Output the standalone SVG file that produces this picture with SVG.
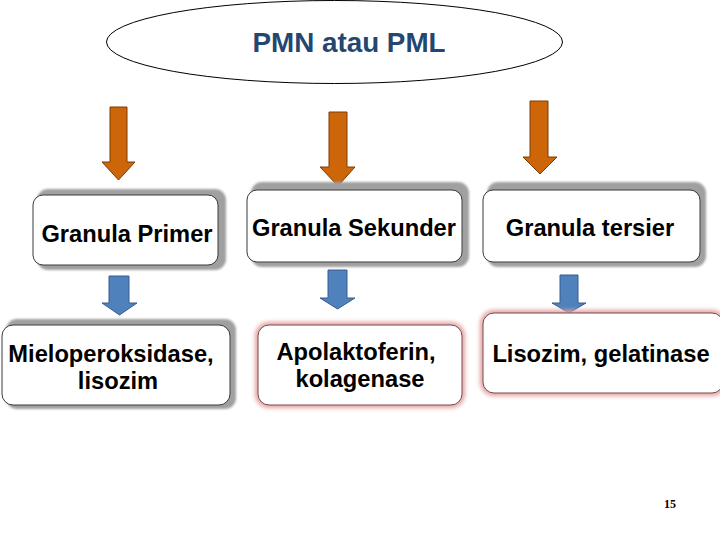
<svg xmlns="http://www.w3.org/2000/svg" width="720" height="540" viewBox="0 0 720 540">
<defs>
<style>
.t{font-family:"Liberation Sans",Arial,sans-serif;font-weight:bold;font-size:23.7px;fill:#000;text-anchor:middle}
.title{font-family:"Liberation Sans",Arial,sans-serif;font-weight:bold;font-size:27.8px;fill:#24466F;text-anchor:middle}
.pg{font-family:"Liberation Serif","Times New Roman",serif;font-weight:bold;font-size:12px;fill:#000;text-anchor:middle}
.bev{fill:#A0A0A0;filter:url(#soft)}
.box{fill:#fff;stroke:#3A3A3A;stroke-width:1}
.glow{fill:none;stroke:#E3A3A3;stroke-width:6;filter:url(#blur)}
.pbox{fill:#fff;stroke:#7A4A4A;stroke-width:1}
.oa{fill:#CC6608;stroke:#7A3C05;stroke-width:1}
.ba{fill:#4F81BD;stroke:#385D8A;stroke-width:1}
</style>
<filter id="soft" x="-10%" y="-20%" width="120%" height="140%"><feGaussianBlur stdDeviation="0.8"/></filter>
<filter id="blur" x="-10%" y="-20%" width="120%" height="140%"><feGaussianBlur stdDeviation="2"/></filter>
</defs>
<rect width="720" height="540" fill="#fff"/>

<g id="connectors">
<polygon class="oa" points="110,107 127,107 127,162 135,162 118.5,180 102,162 110,162"/>
<polygon class="oa" points="329,112 347,112 347,167 355,167 338,186 320,167 329,167"/>
<polygon class="oa" points="530,101 548,101 548,157 557,157 540,174 523,157 530,157"/>
<polygon class="ba" points="109,276 129,276 129,303 137,303 119.5,315 102,303 109,303"/>
<polygon class="ba" points="328,270 347,270 347,298 355,298 337.5,309 320,298 328,298"/>
<polygon class="ba" points="560,275 578,275 578,303 586,303 569,313 552,303 560,303"/>
</g>

<g id="root">
<ellipse cx="334.5" cy="42" rx="228" ry="41.5" fill="#fff" stroke="#000" stroke-width="1"/>
<text class="title" x="349" y="52">PMN atau PML</text>
</g>

<g id="granula-primer">
<rect class="bev" x="37" y="189" width="189" height="81" rx="11"/>
<rect class="box" x="33" y="195" width="185" height="70" rx="10"/>
<text class="t" x="127" y="242">Granula Primer</text>
</g>

<g id="granula-sekunder">
<rect class="bev" x="251" y="182" width="218" height="85" rx="11"/>
<rect class="box" x="247" y="190" width="215" height="72" rx="10"/>
<text class="t" x="354" y="236">Granula Sekunder</text>
</g>

<g id="granula-tersier">
<rect class="bev" x="487" y="182" width="219" height="85" rx="11"/>
<rect class="box" x="483" y="190" width="217" height="72" rx="10"/>
<text class="t" x="590" y="236">Granula tersier</text>
</g>

<g id="mieloperoksidase">
<rect class="bev" x="6" y="319" width="230" height="90" rx="11"/>
<rect class="box" x="2" y="325" width="228" height="80" rx="11"/>
<text class="t" x="111" y="362">Mieloperoksidase,</text>
<text class="t" x="118" y="389">lisozim</text>
</g>

<g id="apolaktoferin">
<rect class="glow" x="258" y="325" width="204" height="80" rx="11"/>
<rect class="pbox" x="258" y="325" width="204" height="80" rx="11"/>
<text class="t" x="356" y="360">Apolaktoferin,</text>
<text class="t" x="360" y="387">kolagenase</text>
</g>

<g id="lisozim-gelatinase">
<rect class="glow" x="483" y="313" width="240" height="80" rx="11"/>
<rect class="pbox" x="483" y="313" width="240" height="80" rx="11"/>
<text class="t" x="601" y="362">Lisozim, gelatinase</text>
</g>

<text class="pg" x="670" y="508">15</text>
</svg>
